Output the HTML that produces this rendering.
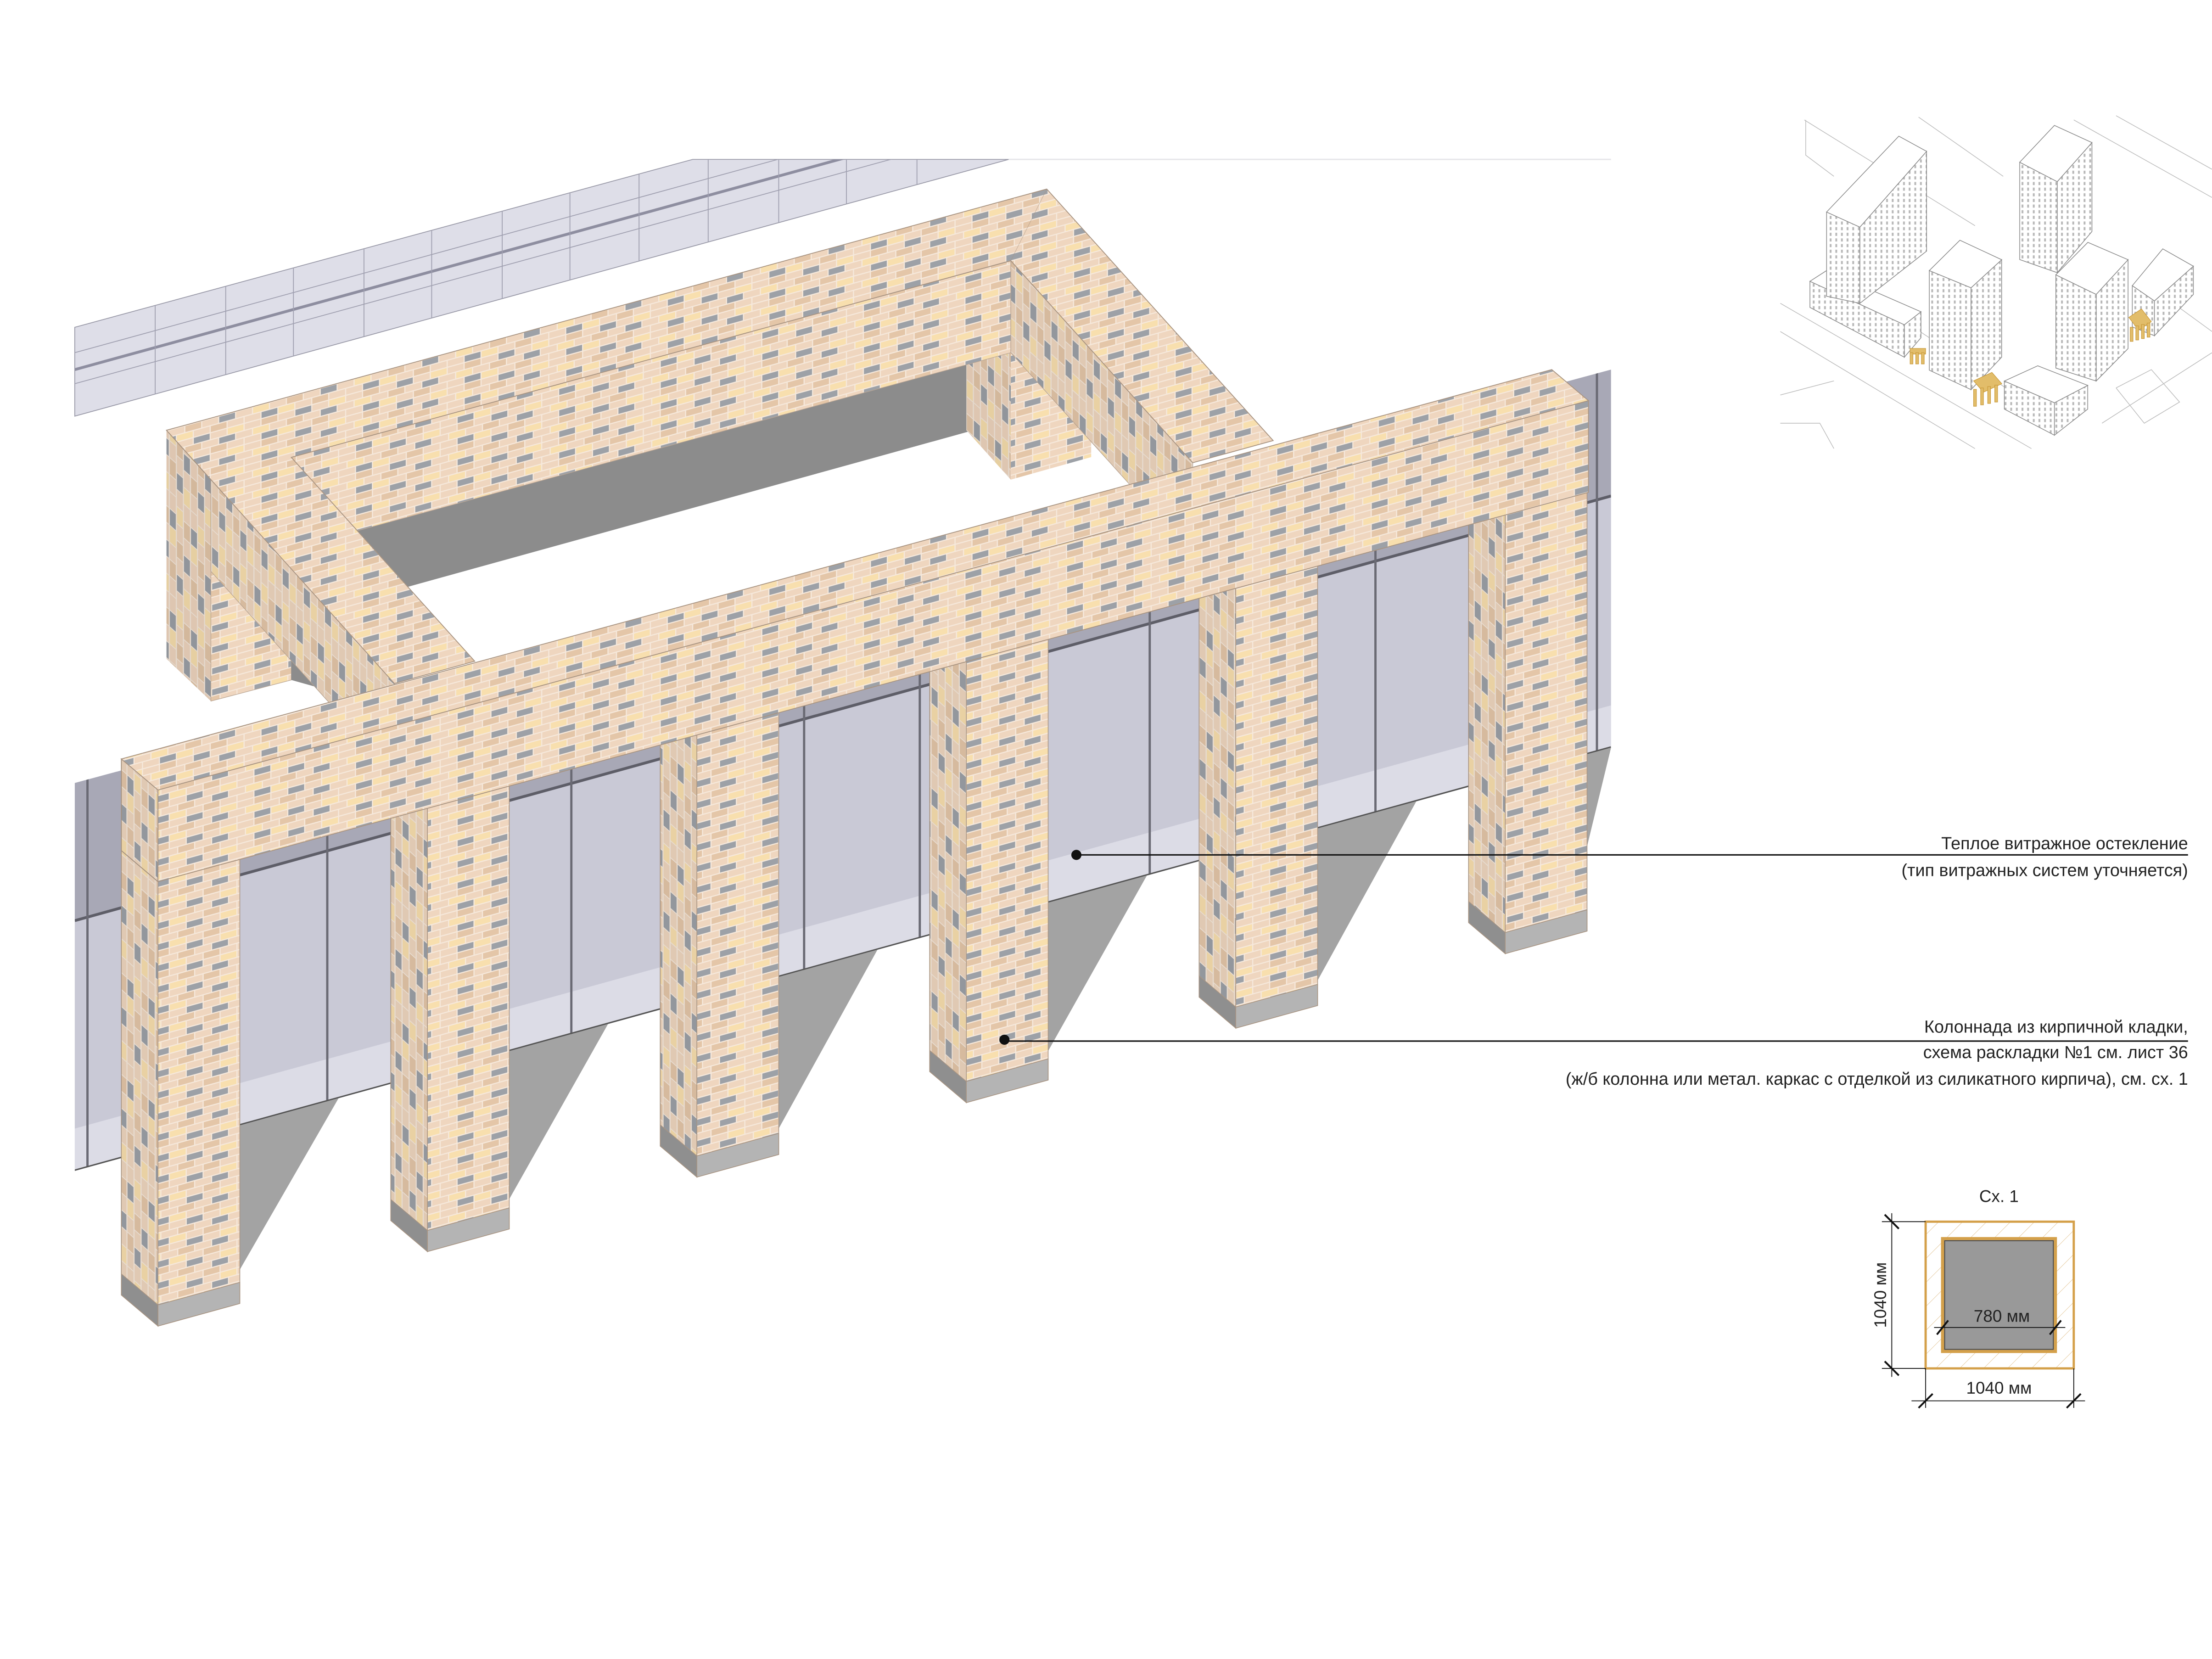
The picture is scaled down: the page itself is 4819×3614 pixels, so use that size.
<!DOCTYPE html>
<html><head><meta charset="utf-8">
<style>
html,body{margin:0;padding:0;background:#fff;}
svg{display:block;}
text{font-family:"Liberation Sans",sans-serif;fill:#222;}
</style></head>
<body>
<svg width="4819" height="3614" viewBox="0 0 1568 1176" preserveAspectRatio="none" xmlns="http://www.w3.org/2000/svg">
<defs>
<g id="tile">
<rect width="72" height="15" fill="#f6e9dc"/>
<g>
<rect x="0.4" y="0.4" width="11.2" height="4.2" fill="#efd6bf"/>
<rect x="12.4" y="0.4" width="11.2" height="4.2" fill="#f8dfae"/>
<rect x="24.4" y="0.4" width="11.2" height="4.2" fill="#efd6bf"/>
<rect x="36.4" y="0.4" width="11.2" height="4.2" fill="#e4c6a8"/>
<rect x="48.4" y="0.4" width="11.2" height="4.2" fill="#efd6bf"/>
<rect x="60.4" y="0.4" width="11.2" height="4.2" fill="#9da1a7"/>
<rect x="-5.6" y="5.4" width="11.2" height="4.2" fill="#efd6bf"/>
<rect x="66.4" y="5.4" width="11.2" height="4.2" fill="#efd6bf"/>
<rect x="6.4" y="5.4" width="11.2" height="4.2" fill="#9da1a7"/>
<rect x="18.4" y="5.4" width="11.2" height="4.2" fill="#efd6bf"/>
<rect x="30.4" y="5.4" width="11.2" height="4.2" fill="#f8dfae"/>
<rect x="42.4" y="5.4" width="11.2" height="4.2" fill="#efd6bf"/>
<rect x="54.4" y="5.4" width="11.2" height="4.2" fill="#e4c6a8"/>
<rect x="0.4" y="10.4" width="11.2" height="4.2" fill="#e4c6a8"/>
<rect x="12.4" y="10.4" width="11.2" height="4.2" fill="#efd6bf"/>
<rect x="24.4" y="10.4" width="11.2" height="4.2" fill="#efd6bf"/>
<rect x="36.4" y="10.4" width="11.2" height="4.2" fill="#9da1a7"/>
<rect x="48.4" y="10.4" width="11.2" height="4.2" fill="#f8dfae"/>
<rect x="60.4" y="10.4" width="11.2" height="4.2" fill="#efd6bf"/>
</g>
</g>
<pattern id="bf" width="72" height="15" patternUnits="userSpaceOnUse" patternTransform="skewY(-15.45)"><use href="#tile"/></pattern>
<pattern id="bs" width="72" height="15" patternUnits="userSpaceOnUse" patternTransform="rotate(90) skewX(0)"><use href="#tile"/></pattern>
<pattern id="bs2" width="15" height="72" patternUnits="userSpaceOnUse" patternTransform="skewY(42)">
<g transform="rotate(90) translate(0,-15)"><use href="#tile"/></g></pattern>
<pattern id="bt" width="72" height="15" patternUnits="userSpaceOnUse" patternTransform="skewY(-15.45) translate(5,3)"><use href="#tile"/></pattern>
<clipPath id="gclip"><polygon points="53,555 1142,262 1142,530 53,830"/></clipPath>
<clipPath id="sclip"><polygon points="53,232 491,113 715,113 53,295"/></clipPath>
<pattern id="win" width="4" height="4" patternUnits="userSpaceOnUse"><rect width="4" height="4" fill="#fff"/><rect x="1" y="1" width="1.3" height="2.2" fill="#b8b8b8"/></pattern>
<pattern id="hatch" width="12" height="12" patternUnits="userSpaceOnUse" patternTransform="rotate(45)"><line x1="0" y1="0" x2="0" y2="12" stroke="#e3c79a" stroke-width="0.6"/></pattern>
</defs>

<!-- back glass strip -->
<g>
<polygon points="53,232 491,113 715,113 53,295" fill="#dedee8" stroke="#9a9aa8" stroke-width="0.6"/>
<g clip-path="url(#sclip)" stroke="#a0a0b0" stroke-width="0.6">
<line x1="53" y1="262" x2="715" y2="80" stroke="#8e8ea0" stroke-width="2"/>
<line x1="53" y1="272" x2="715" y2="90"/>
<line x1="53" y1="250" x2="715" y2="68"/>
<line x1="110" y1="100" x2="110" y2="300"/><line x1="160" y1="100" x2="160" y2="300"/>
<line x1="208" y1="100" x2="208" y2="300"/><line x1="258" y1="100" x2="258" y2="300"/>
<line x1="306" y1="100" x2="306" y2="300"/><line x1="356" y1="100" x2="356" y2="300"/>
<line x1="404" y1="100" x2="404" y2="300"/><line x1="453" y1="100" x2="453" y2="300"/>
<line x1="502" y1="100" x2="502" y2="300"/><line x1="552" y1="100" x2="552" y2="300"/>
<line x1="600" y1="100" x2="600" y2="300"/><line x1="650" y1="100" x2="650" y2="300"/>
</g>
<line x1="715" y1="113" x2="1142" y2="113" stroke="#e6e6ea" stroke-width="1"/>
</g>

<!-- main glazing -->
<polygon points="53,555 1142,262 1142,530 53,830" fill="#c9c9d6"/>
<g clip-path="url(#gclip)">
<polygon points="53,555 1142,262 1142,351.6 53,652.6" fill="#a8a8b6"/>
<polygon points="53,800 1142,500 1142,530 53,830" fill="#dcdce6"/>
<line x1="53" y1="652.6" x2="1142" y2="351.6" stroke="#5e5e68" stroke-width="2"/>
<g stroke="#6a6a74" stroke-width="1.6">
<line x1="62" y1="0" x2="62" y2="900"/>
<line x1="232" y1="0" x2="232" y2="900"/><line x1="405" y1="0" x2="405" y2="900"/>
<line x1="570" y1="0" x2="570" y2="900"/><line x1="652" y1="0" x2="652" y2="900"/>
<line x1="815" y1="0" x2="815" y2="900"/><line x1="975" y1="0" x2="975" y2="900"/>
<line x1="1132" y1="0" x2="1132" y2="900"/>
</g>
<line x1="53" y1="830" x2="1142" y2="530" stroke="#555" stroke-width="2"/>
</g>

<!-- shadows -->
<g fill="#a3a3a3">
<polygon points="170,797.8 240,778.5 170,900"/>
<polygon points="361,745.1 431,725.9 361,850"/>
<polygon points="552,692.5 622,673.2 552,800"/>
<polygon points="743,639.9 813,620.6 743,745"/>
<polygon points="934,587.3 1004,568 934,695"/>
<polygon points="1125,534.7 1142,530 1125,600"/>
</g>

<!-- back structure -->
<!-- grey shadow in opening -->
<polygon points="206.5,389 690,255 690,305 289,416" fill="#8c8c8c"/>
<!-- back-right drop -->
<polygon points="685,150 716.5,185 716.5,340 685,305" fill="url(#bs2)"/>
<polygon points="685,150 716.5,185 716.5,340 685,305" fill="#000" opacity="0.07"/>
<polygon points="716.5,185 773.5,169 773.5,324 716.5,340" fill="url(#bf)"/>
<!-- back beam inner face -->
<polygon points="206.5,324 716.5,185 716.5,250 206.5,389" fill="url(#bf)" stroke="#b9a593" stroke-width="0.4"/>
<!-- right arm inner face -->
<polygon points="716.5,185 845.5,328 845.5,393 716.5,250" fill="url(#bs2)" stroke="#b9a593" stroke-width="0.4"/>
<polygon points="716.5,185 845.5,328 845.5,393 716.5,250" fill="#000" opacity="0.06"/>
<!-- back-left drop -->
<polygon points="118,305 149.5,340 149.5,497 118,467" fill="url(#bs2)"/>
<polygon points="118,305 149.5,340 149.5,497 118,467" fill="#000" opacity="0.07"/>
<polygon points="149.5,340 206.5,324 206.5,482 149.5,497" fill="url(#bf)" stroke="#b9a593" stroke-width="0.4"/>
<polygon points="206.5,440 235,490 206.5,482" fill="#8c8c8c"/>
<!-- left arm outer face -->
<polygon points="149.5,340 279.6,484.5 279.6,549.5 149.5,405" fill="url(#bs2)" stroke="#b9a593" stroke-width="0.4"/>
<polygon points="149.5,340 279.6,484.5 279.6,549.5 149.5,405" fill="#000" opacity="0.06"/>
<!-- U top face -->
<polygon points="118,305 742,134 902.5,312.3 845.5,328 716.5,184.8 206.5,324.2 336.5,468.7 279.6,484.5" fill="url(#bt)" stroke="#a89482" stroke-width="0.6"/>
<line x1="118" y1="305" x2="149.5" y2="340" stroke="#a89482" stroke-width="0.6"/>
<line x1="742" y1="134" x2="716.5" y2="184.8" stroke="#a89482" stroke-width="0.4" opacity="0.5"/>

<!-- columns -->
<g stroke="#a89482" stroke-width="0.5">
<!-- col 0 -->
<polygon points="86,595 112,617 112,940 86,918" fill="url(#bs2)"/>
<polygon points="86,595 112,617 112,940 86,918" fill="#000" opacity="0.06" stroke="none"/>
<polygon points="112,615 170,599 170,924 112,940" fill="url(#bf)"/>
<polygon points="86,903 112,925 112,940 86,918" fill="#8f8f8f"/>
<polygon points="112,925 170,909 170,924 112,940" fill="#b4b4b4"/>
<!-- col 1 -->
<polygon points="277,542.2 303,564.2 303,887.2 277,865.2" fill="url(#bs2)"/>
<polygon points="277,542.2 303,564.2 303,887.2 277,865.2" fill="#000" opacity="0.06" stroke="none"/>
<polygon points="303,562.2 361,546.2 361,871.2 303,887.2" fill="url(#bf)"/>
<polygon points="277,850.2 303,872.2 303,887.2 277,865.2" fill="#8f8f8f"/>
<polygon points="303,872.2 361,856.2 361,871.2 303,887.2" fill="#b4b4b4"/>
<!-- col 2 -->
<polygon points="468,489.4 494,511.4 494,834.4 468,812.4" fill="url(#bs2)"/>
<polygon points="468,489.4 494,511.4 494,834.4 468,812.4" fill="#000" opacity="0.06" stroke="none"/>
<polygon points="494,509.4 552,493.4 552,818.4 494,834.4" fill="url(#bf)"/>
<polygon points="468,797.4 494,819.4 494,834.4 468,812.4" fill="#8f8f8f"/>
<polygon points="494,819.4 552,803.4 552,818.4 494,834.4" fill="#b4b4b4"/>
<!-- col 3 -->
<polygon points="659,436.6 685,458.6 685,781.6 659,759.6" fill="url(#bs2)"/>
<polygon points="659,436.6 685,458.6 685,781.6 659,759.6" fill="#000" opacity="0.06" stroke="none"/>
<polygon points="685,456.6 743,440.6 743,765.6 685,781.6" fill="url(#bf)"/>
<polygon points="659,744.6 685,766.6 685,781.6 659,759.6" fill="#8f8f8f"/>
<polygon points="685,766.6 743,750.6 743,765.6 685,781.6" fill="#b4b4b4"/>
<!-- col 4 -->
<polygon points="850,383.8 876,405.8 876,728.8 850,706.8" fill="url(#bs2)"/>
<polygon points="850,383.8 876,405.8 876,728.8 850,706.8" fill="#000" opacity="0.06" stroke="none"/>
<polygon points="876,403.8 934,387.8 934,712.8 876,728.8" fill="url(#bf)"/>
<polygon points="850,691.8 876,713.8 876,728.8 850,706.8" fill="#8f8f8f"/>
<polygon points="876,713.8 934,697.8 934,712.8 876,728.8" fill="#b4b4b4"/>
<!-- col 5 -->
<polygon points="1041,331 1067,353 1067,676 1041,654" fill="url(#bs2)"/>
<polygon points="1041,331 1067,353 1067,676 1041,654" fill="#000" opacity="0.06" stroke="none"/>
<polygon points="1067,351 1125,335 1125,660 1067,676" fill="url(#bf)"/>
<polygon points="1041,639 1067,661 1067,676 1041,654" fill="#8f8f8f"/>
<polygon points="1067,661 1125,645 1125,660 1067,676" fill="#b4b4b4"/>
</g>

<!-- front beam -->
<g stroke="#a89482" stroke-width="0.6">
<polygon points="86,538 112,560 112,625 86,603" fill="url(#bs2)"/>
<polygon points="86,538 112,560 112,625 86,603" fill="#000" opacity="0.06" stroke="none"/>
<polygon points="112,560 1126,284 1126,349 112,625" fill="url(#bf)"/>
<polygon points="86,538 1100,262 1126,284 112,560" fill="url(#bt)"/>
</g>

<!-- callouts -->
<g stroke="#111" stroke-width="1">
<line x1="763" y1="606" x2="1551" y2="606"/>
<line x1="712" y1="738" x2="1551" y2="738"/>
</g>
<circle cx="763" cy="606" r="3.6" fill="#111"/>
<circle cx="712" cy="737" r="3.6" fill="#111"/>
<g font-size="12.3" text-anchor="end">
<text x="1551" y="602">Теплое витражное остекление</text>
<text x="1551" y="621">(тип витражных систем уточняется)</text>
<text x="1551" y="732">Колоннада из кирпичной кладки,</text>
<text x="1551" y="750" fill="#000" style="font-weight:500">схема раскладки №1 см. лист 36</text>
<text x="1551" y="769">(ж/б колонна или метал. каркас с отделкой из силикатного кирпича), см. сх. 1</text>
</g>

<!-- scheme Сх. 1 -->
<g>
<text x="1417" y="852" font-size="12" text-anchor="middle">Сх. 1</text>
<rect x="1365" y="866" width="105" height="104" fill="url(#hatch)" stroke="#d4a04a" stroke-width="1.6"/>
<rect x="1377" y="878" width="80" height="80" fill="#999" stroke="#d4a04a" stroke-width="2.2"/>
<rect x="1378.5" y="879.5" width="77" height="77" fill="none" stroke="#444" stroke-width="0.6"/>
<g stroke="#111" stroke-width="0.6">
<line x1="1341" y1="860" x2="1341" y2="976"/>
<line x1="1334" y1="866" x2="1365" y2="866"/>
<line x1="1334" y1="970" x2="1365" y2="970"/>
<line x1="1355" y1="993" x2="1478" y2="993"/>
<line x1="1365" y1="970" x2="1365" y2="998"/>
<line x1="1470" y1="970" x2="1470" y2="998"/>
<line x1="1371" y1="941" x2="1464" y2="941"/>
</g>
<g stroke="#111" stroke-width="1.3">
<line x1="1336" y1="861" x2="1346" y2="871"/>
<line x1="1336" y1="965" x2="1346" y2="975"/>
<line x1="1360" y1="998" x2="1370" y2="988"/>
<line x1="1465" y1="998" x2="1475" y2="988"/>
<line x1="1373" y1="946" x2="1381" y2="936"/>
<line x1="1453" y1="946" x2="1461" y2="936"/>
</g>
<text x="1419" y="937" font-size="12" text-anchor="middle">780 мм</text>
<text x="1417" y="988" font-size="12" text-anchor="middle">1040 мм</text>
<text x="1337" y="918" font-size="12" text-anchor="middle" transform="rotate(-90 1337 918)">1040 мм</text>
</g>

<!-- thumbnail -->
<g stroke="#bdbdbd" stroke-width="0.5" fill="none">
<line x1="1279" y1="85" x2="1400" y2="160"/>
<line x1="1360" y1="83" x2="1420" y2="125"/>
<line x1="1470" y1="85" x2="1568" y2="140"/>
<line x1="1500" y1="82" x2="1568" y2="120"/>
<line x1="1262" y1="215" x2="1440" y2="318"/>
<line x1="1262" y1="235" x2="1400" y2="318"/>
<line x1="1300" y1="195" x2="1460" y2="300"/>
<line x1="1262" y1="280" x2="1300" y2="270"/>
<line x1="1490" y1="300" x2="1568" y2="250"/>
<line x1="1520" y1="200" x2="1568" y2="235"/>
<polyline points="1280,85 1280,110 1300,125"/>
<polyline points="1500,275 1520,300 1545,285 1525,262 1500,275"/>
<polyline points="1262,300 1290,300 1300,318"/>
</g>
<g stroke="#8a8a8a" stroke-width="0.5">
<!-- podium left -->
<polygon points="1283,217.9 1349.9,253.2 1349.9,230.2 1283,199.4" fill="url(#win)"/>
<polygon points="1349.9,253.2 1361.7,239.4 1361.7,221 1349.9,230.2" fill="url(#win)"/>
<polygon points="1283,199.4 1294.8,191.8 1361.7,221 1349.9,230.2" fill="#fff"/>
<!-- T1 -->
<polygon points="1294.8,150.3 1318.4,161 1318.4,215 1294.8,210" fill="url(#win)"/>
<polygon points="1318.4,161 1365.7,107.3 1365.7,178 1318.4,215" fill="url(#win)"/>
<polygon points="1294.8,150.3 1346,96.5 1365.7,107.3 1318.4,161" fill="#fff"/>
<!-- T2 -->
<polygon points="1431.7,115 1458.3,128.8 1458.3,193.3 1431.7,184" fill="url(#win)"/>
<polygon points="1458.3,128.8 1482.9,101.1 1482.9,164.1 1458.3,193.3" fill="url(#win)"/>
<polygon points="1431.7,115 1456.3,88.9 1482.9,101.1 1458.3,128.8" fill="#fff"/>
<!-- T3 -->
<polygon points="1367.6,191.8 1397.2,204 1397.2,276.2 1367.6,262.4" fill="url(#win)"/>
<polygon points="1397.2,204 1418.9,184.1 1418.9,253.2 1397.2,276.2" fill="url(#win)"/>
<polygon points="1367.6,191.8 1389.3,170.3 1418.9,184.1 1397.2,204" fill="#fff"/>
<!-- T4 -->
<polygon points="1457.3,194.8 1485.9,208.7 1485.9,270.1 1457.3,260.9" fill="url(#win)"/>
<polygon points="1485.9,208.7 1508.5,184.1 1508.5,247.1 1485.9,270.1" fill="url(#win)"/>
<polygon points="1457.3,194.8 1480,171.8 1508.5,184.1 1485.9,208.7" fill="#fff"/>
<!-- P2 -->
<polygon points="1420.8,270.1 1456.3,285.5 1456.3,308.5 1420.8,290" fill="url(#win)"/>
<polygon points="1456.3,285.5 1479.9,273.2 1479.9,290 1456.3,308.5" fill="url(#win)"/>
<polygon points="1420.8,270.1 1444.5,259.3 1479.9,273.2 1456.3,285.5" fill="#fff"/>
<!-- P3 -->
<polygon points="1511.5,202.5 1527.2,213.3 1527.2,238 1511.5,231.7" fill="url(#win)"/>
<polygon points="1527.2,213.3 1554.8,188.7 1554.8,208.7 1527.2,238" fill="url(#win)"/>
<polygon points="1511.5,202.5 1533.1,176.4 1554.8,188.7 1527.2,213.3" fill="#fff"/>
</g>
<g fill="#e2bd6a" stroke="#c99a3a" stroke-width="0.4">
<rect x="1354" y="247" width="11" height="4"/><rect x="1354" y="250" width="2" height="8"/><rect x="1358" y="250" width="2" height="8"/><rect x="1362" y="250" width="2" height="8"/>
<polygon points="1399,270 1412,264 1419,272 1406,278"/>
<rect x="1399" y="276" width="2" height="12"/><rect x="1404" y="275" width="2" height="12"/><rect x="1409" y="274" width="2" height="12"/><rect x="1414" y="273" width="2" height="12"/>
<polygon points="1509,225 1518,219 1525,228 1516,234"/>
<rect x="1510" y="232" width="2" height="10"/><rect x="1514" y="231" width="2" height="10"/><rect x="1518" y="230" width="2" height="10"/><rect x="1522" y="229" width="2" height="10"/>
</g>
</svg>
</body></html>
